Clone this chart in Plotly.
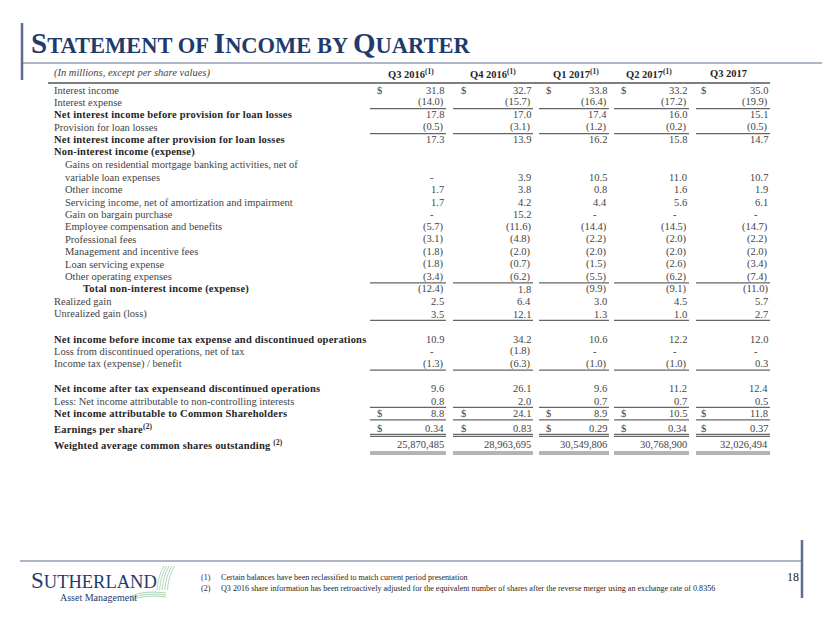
import plotly.graph_objects as go

# statement rows, top to bottom (None = no value, 0 = shown as "-")
labels = [
    "Interest income",
    "Interest expense",
    "Net interest income before provision for loan losses",
    "Provision for loan losses",
    "Net interest income after provision for loan losses",
    "Non-interest income (expense)",
    "Gains on residential mortgage banking activities, net of",
    "variable loan expenses",
    "Other income",
    "Servicing income, net of amortization and impairment",
    "Gain on bargain purchase",
    "Employee compensation and benefits",
    "Professional fees",
    "Management and incentive fees",
    "Loan servicing expense",
    "Other operating expenses",
    "Total non-interest income (expense)",
    "Realized gain",
    "Unrealized gain (loss)",
    "",
    "Net income before income tax expense and discontinued operations",
    "Loss from discontinued operations, net of tax",
    "Income tax (expense) / benefit",
    "",
    "Net income after tax expenseand discontinued operations",
    "Less: Net income attributable to non-controlling interests",
    "Net income attributable to Common Shareholders",
    "Earnings per share<sup>(2)</sup>",
    "Weighted average common shares outstanding <sup>(2)</sup>",
]

quarters = ["Q3 2016<sup>(1)</sup>", "Q4 2016<sup>(1)</sup>", "Q1 2017<sup>(1)</sup>",
            "Q2 2017<sup>(1)</sup>", "Q3 2017"]

q3_2016 = [31.8, -14.0, 17.8, -0.5, 17.3, None, None, 0, 1.7, 1.7, 0, -5.7, -3.1, -1.8,
           -1.8, -3.4, -12.4, 2.5, 3.5, None, 10.9, 0, -1.3, None, 9.6, 0.8, 8.8, 0.34,
           25870485]
q4_2016 = [32.7, -15.7, 17.0, -3.1, 13.9, None, None, 3.9, 3.8, 4.2, 15.2, -11.6, -4.8,
           -2.0, -0.7, -6.2, 1.8, 6.4, 12.1, None, 34.2, -1.8, -6.3, None, 26.1, 2.0,
           24.1, 0.83, 28963695]
q1_2017 = [33.8, -16.4, 17.4, -1.2, 16.2, None, None, 10.5, 0.8, 4.4, 0, -14.4, -2.2,
           -2.0, -1.5, -5.5, -9.9, 3.0, 1.3, None, 10.6, 0, -1.0, None, 9.6, 0.7, 8.9,
           0.29, 30549806]
q2_2017 = [33.2, -17.2, 16.0, -0.2, 15.8, None, None, 11.0, 1.6, 5.6, 0, -14.5, -2.0,
           -2.0, -2.6, -6.2, -9.1, 4.5, 1.0, None, 12.2, 0, -1.0, None, 11.2, 0.7, 10.5,
           0.34, 30768900]
q3_2017 = [35.0, -19.9, 15.1, -0.5, 14.7, None, None, 10.7, 1.9, 6.1, 0, -14.7, -2.2,
           -2.0, -3.4, -7.4, -11.0, 5.7, 2.7, None, 12.0, 0, 0.3, None, 12.4, 0.5, 11.8,
           0.37, 32026494]
columns = [q3_2016, q4_2016, q1_2017, q2_2017, q3_2017]

footnotes = ["Certain balances have been reclassified to match current period presentation",
             "Q3 2016 share information has been retroactively adjusted for the equivalent "
             "number of shares after the reverse merger using an exchange rate of 0.8356"]

# row styling
bold_rows = {2, 4, 5, 16, 20, 24, 26, 27, 28}
indent_rows = set(range(6, 16))
dollar_rows = {0, 26, 27}
single_lines = [1, 3, 15, 18, 22, 25, 26]
double_lines = [27, 28]

NAVY = "#1F3B6B"
RULE = "#5B6F8F"
GREY = "#444444"
DARK = "#262626"
SERIF = "Liberation Serif"
FS = 10.5

# column geometry (page pixels)
col_left = [370, 453, 539, 614, 696]
col_right = [446, 533, 609, 689, 770]
col_dollar = [379, 463, 548, 623, 703]
col_head = [411, 493, 576, 649, 728]

row_y = []
y = 90.0
for i in range(len(labels)):
    if i == 27:
        y += 2.6
    if i == 28:
        y += 3.6
    row_y.append(y)
    y += 12.45


def fmt(v, i):
    if v is None:
        return ""
    if i == 27:
        return f"{v:.2f}"
    if i == 28:
        return f"{v:,.0f}"
    if v == 0:
        return "-"
    if v < 0:
        return f"({-v:.1f})"
    return f"{v:.1f}"


fig = go.Figure()
fig.add_trace(go.Scatter(x=[], y=[], hoverinfo="skip", showlegend=False))

ann = []
shapes = []


def text(x, y, s, size=FS, color=GREY, anchor="left", bold=False, italic=False,
         family=SERIF):
    ann.append(dict(x=x, y=y, xref="x", yref="y", text=s, showarrow=False,
                    xanchor=anchor, yanchor="middle",
                    font=dict(family=family, size=size, color=color,
                              weight="bold" if bold else "normal",
                              style="italic" if italic else "normal")))


def line(x0, y0, x1, y1, color=RULE, width=1.0):
    shapes.append(dict(type="line", xref="x", yref="y", x0=x0, y0=y0, x1=x1, y1=y1,
                       line=dict(color=color, width=width)))


# title block (small caps)
big, small = 29, 22.5
words = ["STATEMENT", "OF", "INCOME", "BY", "QUARTER"]
title = " ".join(
    (f'<span style="font-size:{big}px">{w[0]}</span>{w[1:]}' if len(w) > 2 else w)
    for w in words)
text(29, 43, title, size=small, color=NAVY, bold=True)
line(22, 23, 22, 80, color=RULE, width=2.5)
line(22, 63, 830, 63, color=RULE, width=1.2)

# header row
text(52, 73, "(In millions, except per share values)", size=FS, italic=True)
for x, q in zip(col_head, quarters):
    text(x, 73, q, size=FS, color=DARK, bold=True, anchor="center")
line(48, 83, 770, 83, color="#555555", width=1.3)

# body
for i, lab in enumerate(labels):
    yy = row_y[i]
    x = 81 if i == 16 else (63 if i in indent_rows else 52)
    b = i in bold_rows
    if lab:
        s = f'<span style="letter-spacing:0.2px">{lab}</span>' if b else lab
        text(x, yy, s, color=DARK if b else GREY, bold=b)
    for c, vals in enumerate(columns):
        v = fmt(vals[i], i)
        if not v:
            continue
        xr = col_right[c] - 10 if v == "-" else col_right[c]
        text(xr, yy, v, anchor="right")
        if i in dollar_rows:
            text(col_dollar[c], yy, "$", anchor="center")

for i in single_lines:
    yl = row_y[i] + 6.2
    for c in range(5):
        line(col_left[c], yl, col_right[c], yl, color="#666666", width=1.2)

for i in double_lines:
    yl = row_y[i] + (6.6 if i == 27 else 8.2)
    for c in range(5):
        line(col_left[c], yl - 1, col_right[c], yl - 1, color="#6a6a6a", width=1.2)
        line(col_left[c], yl + 1, col_right[c], yl + 1, color="#6a6a6a", width=1.2)

# footer
line(20, 561, 802, 561, color=RULE, width=1.2)
line(802, 540, 802, 598, color=RULE, width=2.5)
text(793, 577, "18", size=12, color=DARK, anchor="center")
for k, note in enumerate(footnotes):
    fy = 577 + k * 11.5
    text(199, fy, f"({k + 1})", size=8, color=DARK)
    text(219, fy, note, size=8.1, color=DARK)

text(29, 580, '<span style="font-size:23px">S</span>UTHERLAND', size=18.5,
     color=NAVY)
text(58, 597, "Asset Management", size=10, color=NAVY)
for k in range(5):
    x0 = 157 + k * 2.6
    shapes.append(dict(type="path", xref="x", yref="y",
                       path=f"M {x0} 590 Q {x0 + 1} 576 {x0 + 7} 566",
                       line=dict(color="#A9D3B4", width=0.9)))
for k in range(3):
    yk = 594 + k * 2
    shapes.append(dict(type="path", xref="x", yref="y",
                       path=f"M 131 {yk + 2} Q 145 {yk - 4} 166 {yk - 1}",
                       line=dict(color="#A9D3B4", width=1.0)))

# the page body has an 8px margin, so the figure is offset by 8px;
# axis ranges are set so that data coordinates equal window pixels
fig.update_layout(
    width=822, height=615,
    margin=dict(l=0, r=0, t=0, b=0),
    plot_bgcolor="white", paper_bgcolor="white",
    xaxis=dict(range=[8, 830], visible=False, fixedrange=True),
    yaxis=dict(range=[623, 8], visible=False, fixedrange=True),
    annotations=ann, shapes=shapes,
    showlegend=False,
)

fig.write_html("out.html")
